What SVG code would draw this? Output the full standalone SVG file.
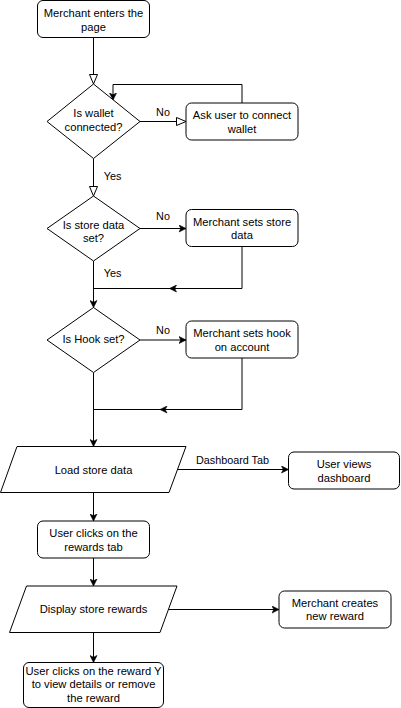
<svg xmlns="http://www.w3.org/2000/svg" width="401" height="708" viewBox="0 0 401 708">
<style>
.shape{fill:#fff;stroke:#000;stroke-width:1}
.t{font-family:"Liberation Sans",Arial,Helvetica,sans-serif;font-size:11.2px;fill:#000;text-anchor:middle}
.lbl{font-family:"Liberation Sans",Arial,Helvetica,sans-serif;font-size:10.8px;fill:#000;text-anchor:middle}
.c{fill:none;stroke:#000;stroke-width:1}
.ca{fill:none;stroke:#000;stroke-width:1;marker-end:url(#fa)}
.co{fill:none;stroke:#000;stroke-width:1;marker-end:url(#oa)}
</style>
<defs>
<marker id="fa" markerUnits="userSpaceOnUse" markerWidth="8" markerHeight="8" viewBox="0 0 8 8" refX="7.5" refY="4" orient="auto">
<path d="M0.5,0.5 L7.5,4 L0.5,7.5 L2.3,4 Z" fill="#000" stroke="#000" stroke-width="0.6"/>
</marker>
<marker id="oa" markerUnits="userSpaceOnUse" markerWidth="11" markerHeight="10" viewBox="0 0 11 10" refX="10" refY="5" orient="auto">
<path d="M0.5,1 L10,5 L0.5,9 Z" fill="#fff" stroke="#000" stroke-width="1"/>
</marker>
</defs>
<rect x="0" y="0" width="401" height="708" fill="#fff"/>
<g id="connectors">
<path class="co" d="M93.5,37.5 V84"/>
<path class="co" d="M140,121.5 H186"/>
<path class="ca" d="M242,103 V84.5 H113 V100"/>
<path class="co" d="M93.5,158.5 V196"/>
<path class="ca" d="M140,228.5 H186"/>
<path class="ca" d="M242,246.5 V288.5 H169.5"/>
<path class="c" d="M170,288.5 H93.5"/>
<path class="ca" d="M93.5,261 V307.5"/>
<path class="ca" d="M140,340 H186"/>
<path class="ca" d="M242,358 V409.5 H160"/>
<path class="c" d="M160.5,409.5 H93.5"/>
<path class="ca" d="M93.5,372.5 V446.5"/>
<path class="ca" d="M177.5,469.5 H288.5"/>
<path class="ca" d="M93.5,492.5 V521"/>
<path class="ca" d="M93.5,558 V586"/>
<path class="ca" d="M168.5,609.5 H279"/>
<path class="ca" d="M93.5,632 V662.5"/>
<text class="lbl" x="163" y="115.5">No</text>
<text class="lbl" x="112.5" y="179.5">Yes</text>
<text class="lbl" x="163" y="219.5">No</text>
<text class="lbl" x="112.5" y="277">Yes</text>
<text class="lbl" x="163" y="333.5">No</text>
<text class="lbl" x="232.5" y="464">Dashboard Tab</text>
</g>
<g id="start">
<rect class="shape" x="37.5" y="0.5" width="112" height="37" rx="5.5"/>
<text class="t" x="93.5" y="16.5">Merchant enters the</text>
<text class="t" x="93.5" y="30.5">page</text>
</g>
<g id="walletCheck">
<polygon class="shape" points="93.5,84 140,121.5 93.5,158.5 47,121.5"/>
<text class="t" x="93.5" y="116.5">Is wallet</text>
<text class="t" x="93.5" y="130.5">connected?</text>
</g>
<g id="connectWallet">
<rect class="shape" x="186" y="103" width="112" height="37" rx="5.5"/>
<text class="t" x="242" y="118.5">Ask user to connect</text>
<text class="t" x="242" y="132.5">wallet</text>
</g>
<g id="storeCheck">
<polygon class="shape" points="93.5,196 140,228.5 93.5,261 47,228.5"/>
<text class="t" x="93.5" y="228.5">Is store data</text>
<text class="t" x="93.5" y="242">set?</text>
</g>
<g id="setStore">
<rect class="shape" x="186" y="209.5" width="112" height="37" rx="5.5"/>
<text class="t" x="242" y="225.5">Merchant sets store</text>
<text class="t" x="242" y="239">data</text>
</g>
<g id="hookCheck">
<polygon class="shape" points="93.5,307.5 140,340 93.5,372.5 47,340"/>
<text class="t" x="93.5" y="342.5">Is Hook set?</text>
</g>
<g id="setHook">
<rect class="shape" x="186" y="321" width="112" height="37" rx="5.5"/>
<text class="t" x="242" y="337">Merchant sets hook</text>
<text class="t" x="242" y="350.5">on account</text>
</g>
<g id="loadData">
<polygon class="shape" points="17,446.5 186,446.5 169,492.5 0.5,492.5"/>
<text class="t" x="93.5" y="473.5">Load store data</text>
</g>
<g id="dashboard">
<rect class="shape" x="288.5" y="452" width="111" height="37" rx="5.5"/>
<text class="t" x="344" y="467.5">User views</text>
<text class="t" x="344" y="481.5">dashboard</text>
</g>
<g id="rewardsTab">
<rect class="shape" x="37.5" y="521" width="112" height="37" rx="5.5"/>
<text class="t" x="93.5" y="537">User clicks on the</text>
<text class="t" x="93.5" y="550.5">rewards tab</text>
</g>
<g id="displayRewards">
<polygon class="shape" points="26.5,586 177,586 160,632.5 9.5,632.5"/>
<text class="t" x="93.5" y="613">Display store rewards</text>
</g>
<g id="createReward">
<rect class="shape" x="279" y="591" width="112" height="37" rx="5.5"/>
<text class="t" x="335" y="606.5">Merchant creates</text>
<text class="t" x="335" y="620">new reward</text>
</g>
<g id="rewardDetail">
<rect class="shape" x="23.5" y="662.5" width="140" height="45" rx="5.5"/>
<text class="t" x="93.5" y="674.5">User clicks on the reward Y</text>
<text class="t" x="93.5" y="688">to view details or remove</text>
<text class="t" x="93.5" y="701.5">the reward</text>
</g>
</svg>
